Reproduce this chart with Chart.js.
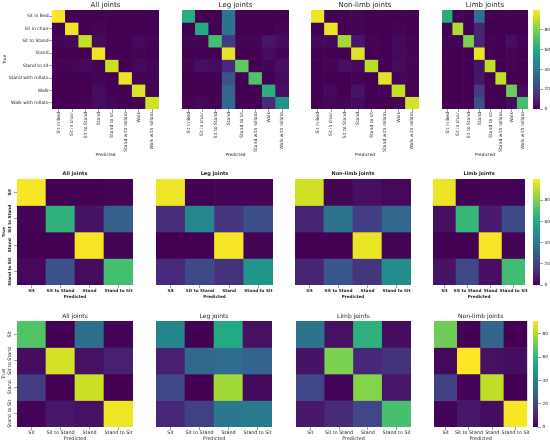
<!DOCTYPE html>
<html lang="en">
<head>
<meta charset="UTF-8">
<title>Confusion matrices</title>
<script src="https://cdn.jsdelivr.net/npm/chart.js@4.4.1/dist/chart.umd.min.js"></script>
<style>
  html, body { margin: 0; padding: 0; background: #fff; }
  #page { position: relative; width: 550px; height: 444px; overflow: hidden; }
  .cell { position: absolute; }
</style>
</head>
<body>
<div id="page"></div>
<script>
// class names
const activities8 = ['Sit in Bed', 'Sit in chair', 'Sit to Stand', 'Stand', 'Stand to sit', 'Stand with rollato', 'Walk', 'Walk with rollato'];
const activities4 = ['Sit', 'Sit to Stand', 'Stand', 'Stand to Sit'];

const titlesRow1 = ['All joints', 'Leg joints', 'Non-limb joints', 'Limb joints'];
const titlesRow2 = ['All joints', 'Leg joints', 'Non-limb joints', 'Limb joints'];
const titlesRow3 = ['All joints', 'Leg joints', 'Limb joints', 'Non-limb joints'];

// row 1 (8 classes), % of true class
const allJoints8 = [
  [99, 0, 0, 0, 0, 0, 0, 0],
  [0, 98, 0, 1, 0, 0, 0, 0],
  [1, 2, 91, 3, 0, 0, 2, 1],
  [0, 0, 0, 98, 0, 0, 1, 0],
  [1, 1, 2, 1, 92, 0, 2, 1],
  [0, 0, 0, 1, 0, 97, 1, 1],
  [0, 0, 0, 3, 0, 0, 95, 1],
  [0, 0, 1, 3, 1, 0, 1, 93]
];
const legJoints8 = [
  [62, 0, 0, 38, 0, 0, 0, 0],
  [0, 61, 0, 38, 0, 0, 0, 1],
  [1, 1, 70, 17, 1, 1, 6, 3],
  [0, 0, 0, 96, 0, 0, 3, 1],
  [1, 4, 3, 12, 75, 0, 1, 4],
  [0, 0, 0, 25, 0, 72, 0, 3],
  [0, 0, 0, 33, 0, 0, 63, 4],
  [1, 2, 0, 34, 0, 0, 12, 51]
];
const nonLimbJoints8 = [
  [98, 0, 0, 1, 0, 0, 0, 0],
  [0, 97, 0, 1, 0, 0, 1, 0],
  [2, 2, 86, 6, 1, 0, 2, 1],
  [0, 0, 0, 95, 0, 0, 2, 1],
  [0, 1, 4, 2, 89, 0, 3, 1],
  [0, 0, 0, 1, 0, 96, 1, 1],
  [0, 2, 0, 5, 0, 1, 91, 1],
  [0, 1, 1, 3, 0, 0, 1, 94]
];
const limbJoints8 = [
  [62, 0, 0, 36, 0, 0, 0, 0],
  [0, 88, 0, 10, 0, 0, 0, 0],
  [1, 1, 80, 10, 1, 0, 4, 1],
  [0, 0, 0, 97, 0, 0, 1, 0],
  [0, 0, 0, 5, 90, 0, 1, 0],
  [0, 0, 0, 6, 0, 91, 0, 0],
  [0, 0, 0, 17, 0, 0, 78, 3],
  [0, 0, 0, 24, 0, 0, 3, 70]
];

// row 2 (4 classes)
const allJointsB = [[99, 0, 0, 1], [1, 64, 5, 30], [0, 0, 99, 1], [2, 25, 3, 70]];
const legJointsB = [[98, 0, 1, 1], [13, 46, 15, 24], [0, 0, 99, 1], [12, 22, 14, 52]];
const nonLimbJointsB = [[93, 1, 4, 2], [10, 38, 18, 33], [0, 0, 97, 1], [10, 27, 15, 48]];
const limbJointsB = [[97, 0, 1, 1], [4, 66, 7, 23], [0, 0, 99, 1], [5, 22, 4, 69]];

// row 3 (4 classes)
const allJointsC = [[66, 0, 33, 1], [3, 85, 4, 8], [16, 0, 84, 0], [1, 6, 4, 89]];
const legJointsC = [[41, 0, 55, 4], [8, 31, 32, 29], [20, 0, 78, 2], [10, 17, 36, 37]];
const limbJointsC = [[35, 4, 58, 3], [5, 73, 10, 13], [19, 1, 74, 6], [6, 11, 19, 64]];
const nonLimbJointsC = [[71, 0, 29, 0], [2, 91, 4, 3], [17, 1, 82, 0], [1, 6, 3, 90]];

// colour bar ranges and ticks
const scaleMax = [100, 100, 91];
const colorbarTicks = [0, 20, 40, 60, 80];

const viridisStops = ['#440154', '#482475', '#414487', '#355f8d', '#2a788e', '#21918c',
                      '#22a884', '#44bf70', '#7ad151', '#bddf26', '#fde725'];

function hexRgb(h) {
  return [parseInt(h.slice(1, 3), 16), parseInt(h.slice(3, 5), 16), parseInt(h.slice(5, 7), 16)];
}
function viridis(t) {
  t = Math.max(0, Math.min(1, t));
  const p = t * 10;
  const i = Math.min(9, Math.floor(p));
  const f = p - i;
  const a = hexRgb(viridisStops[i]), b = hexRgb(viridisStops[i + 1]);
  const c = a.map((v, k) => Math.round(v + (b[k] - v) * f));
  return `rgb(${c[0]},${c[1]},${c[2]})`;
}

const FAMILY = 'DejaVu Sans';
const TXT = '#262626';
const TICKCOL = '#444';

function textWidth(font, s) {
  const c = document.createElement('canvas').getContext('2d');
  c.font = font;
  return c.measureText(s).width;
}

function makeBox(left, top, width, height) {
  const d = document.createElement('div');
  d.className = 'cell';
  d.style.left = left + 'px';
  d.style.top = top + 'px';
  d.style.width = width + 'px';
  d.style.height = height + 'px';
  const c = document.createElement('canvas');
  d.appendChild(c);
  document.getElementById('page').appendChild(d);
  return c;
}

// rows: areas are plot rectangles [x0, y0, x1, y1]
const rows = [
  {
    labels: activities8, titles: titlesRow1,
    mats: [allJoints8, legJoints8, nonLimbJoints8, limbJoints8],
    vmax: scaleMax[0],
    areas: [[52, 10, 159, 109], [182, 10, 289, 109], [311, 10, 419, 109], [442, 10, 528, 109]],
    cbar: [533, 10, 540, 109],
    titleFs: 7, titleH: 9, bold: false, tickFs: 4.5, labFs: 4.3,
    xH: 49, xTitlePad: 0.4, yW: 52, yTitlePad: 2.4, rotate: true
  },
  {
    labels: activities4, titles: titlesRow2,
    mats: [allJointsB, legJointsB, nonLimbJointsB, limbJointsB],
    vmax: scaleMax[1],
    areas: [[17, 179, 133, 285], [156, 179, 273, 285], [295, 179, 411, 285], [433, 179, 526, 285]],
    cbar: [533, 179, 540, 285],
    titleFs: 5, titleH: 8, bold: true, tickFs: 4.2, labFs: 4.2,
    xH: 15, xTitlePad: 0.8, yW: 17, yTitlePad: 1.5, rotate: false, yLabelX: 10.3
  },
  {
    labels: activities4, titles: titlesRow3,
    mats: [allJointsC, legJointsC, limbJointsC, nonLimbJointsC],
    vmax: scaleMax[2],
    areas: [[17, 321, 133, 427], [156, 321, 272, 427], [296, 321, 411, 427], [434, 321, 528, 427]],
    cbar: [533, 321, 538, 427],
    titleFs: 6, titleH: 8, bold: false, tickFs: 4.8, labFs: 4.8,
    xH: 15, xTitlePad: 0, yW: 17, yTitlePad: 1.1, rotate: false, yLabelX: 10
  }
];

function drawHeatmap(row, k) {
  const [x0, y0, x1, y1] = row.areas[k];
  const labels = row.labels;
  const mat = row.mats[k];
  const n = labels.length;
  const first = k === 0;
  const yW = first ? row.yW : 0;
  const rp = 2;
  const weight = row.bold ? 'bold' : 'normal';
  const canvas = makeBox(x0 - yW, y0 - row.titleH, yW + (x1 - x0) + rp, row.titleH + (y1 - y0) + row.xH);

  const datasets = mat.map((vals, i) => ({
    label: labels[i],
    data: vals.map(() => 1),
    backgroundColor: vals.map(v => viridis(v / row.vmax)),
    borderWidth: 0,
    barPercentage: 1,
    categoryPercentage: 1
  }));

  // y tick labels for rows 2/3 are rotated and centred on the row
  let yTicks;
  if (row.rotate) {
    yTicks = { display: first, font: { family: FAMILY, size: row.tickFs, weight }, color: TXT, padding: 0.5, autoSkip: false };
  } else {
    const fontStr = `${weight} ${row.tickFs}px ${FAMILY}`;
    const widest = Math.max(...labels.map(s => textWidth(fontStr, s)));
    yTicks = {
      display: first, font: { family: FAMILY, size: row.tickFs, weight }, color: TXT, autoSkip: false,
      minRotation: 90, maxRotation: 90, crossAlign: 'center',
      padding: (yW - row.yLabelX) - 3 - widest / 2
    };
  }

  new Chart(canvas, {
    type: 'bar',
    data: { labels, datasets },
    options: {
      animation: false,
      responsive: true,
      maintainAspectRatio: false,
      layout: { padding: { left: 0, right: rp, top: 0, bottom: 0 } },
      plugins: {
        legend: { display: false },
        tooltip: { enabled: false },
        title: {
          display: true, text: row.titles[k], fullSize: false, color: TXT,
          font: { family: FAMILY, size: row.titleFs, weight, lineHeight: 1.2 },
          padding: { top: 0, bottom: row.titleH - row.titleFs * 1.2 }
        }
      },
      scales: {
        x: {
          stacked: true,
          afterFit: s => { s.height = row.xH; },
          grid: { display: true, drawOnChartArea: false, drawTicks: true, tickLength: 3, offset: false, color: TICKCOL, lineWidth: 0.5 },
          border: { display: false },
          ticks: {
            font: { family: FAMILY, size: row.tickFs, weight }, color: TXT, padding: 0, autoSkip: false,
            minRotation: row.rotate ? 90 : 0, maxRotation: row.rotate ? 90 : 0
          },
          title: {
            display: true, text: 'Predicted', color: TXT,
            font: { family: FAMILY, size: row.labFs, weight, lineHeight: 1.2 },
            padding: { top: 0, bottom: row.xTitlePad }
          }
        },
        y: {
          stacked: true,
          min: 0, max: n, reverse: true,
          afterFit: s => { s.width = yW; },
          afterBuildTicks: s => { s.ticks = labels.map((l, i) => ({ value: i + 0.5 })); },
          grid: { display: first, drawOnChartArea: false, drawTicks: true, tickLength: 3, color: TICKCOL, lineWidth: 0.5 },
          border: { display: false },
          ticks: Object.assign(yTicks, { callback: v => labels[Math.floor(v)] }),
          title: {
            display: first, text: 'True', color: TXT,
            font: { family: FAMILY, size: row.labFs, weight, lineHeight: 1.2 },
            padding: { top: row.yTitlePad, bottom: 0 }
          }
        }
      }
    }
  });
}

function drawColorbar(row) {
  const [x0, y0, x1, y1] = row.cbar;
  const pad = 6, axisW = 15;
  const canvas = makeBox(x0, y0 - pad, (x1 - x0) + axisW, (y1 - y0) + 2 * pad);
  new Chart(canvas, {
    type: 'bar',
    data: {
      labels: [''],
      datasets: [{
        data: [[0, row.vmax]],
        borderWidth: 0,
        barPercentage: 1,
        categoryPercentage: 1,
        backgroundColor: ctx => {
          const a = ctx.chart.chartArea;
          if (!a) return viridisStops[5];
          const g = ctx.chart.ctx.createLinearGradient(0, a.bottom, 0, a.top);
          viridisStops.forEach((c, i) => g.addColorStop(i / 10, c));
          return g;
        }
      }]
    },
    options: {
      animation: false,
      responsive: true,
      maintainAspectRatio: false,
      layout: { padding: { top: pad, bottom: pad, left: 0, right: 0 } },
      plugins: { legend: { display: false }, tooltip: { enabled: false } },
      scales: {
        x: { display: false },
        y: {
          position: 'right', min: 0, max: row.vmax,
          afterFit: s => { s.width = axisW; },
          afterBuildTicks: s => { s.ticks = colorbarTicks.map(v => ({ value: v })); },
          grid: { display: true, drawOnChartArea: false, drawTicks: true, tickLength: 3, color: TICKCOL, lineWidth: 0.5 },
          border: { display: false },
          ticks: { font: { family: FAMILY, size: 4.3 }, color: TXT, padding: 1.5 }
        }
      }
    }
  });
}

rows.forEach(row => {
  row.areas.forEach((a, k) => drawHeatmap(row, k));
  drawColorbar(row);
});
</script>
</body>
</html>
